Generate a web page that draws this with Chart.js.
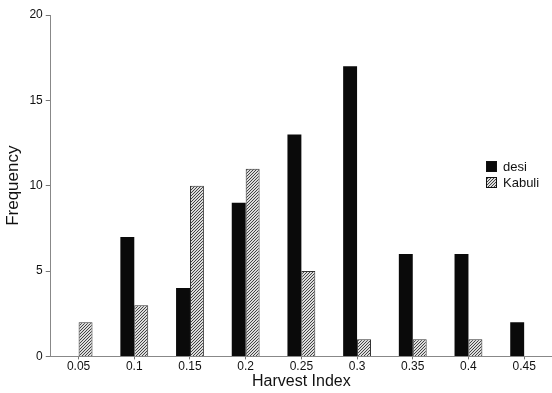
<!DOCTYPE html>
<html>
<head>
<meta charset="utf-8">
<script src="https://cdn.jsdelivr.net/npm/chart.js@4.4.0/dist/chart.umd.min.js"></script>
<style>
  html, body { margin: 0; padding: 0; background: #fff; }
  #wrap { width: 552px; height: 393px; }
</style>
</head>
<body>
<div id="wrap"><canvas id="c" width="552" height="393"></canvas></div>
<script>
// Harvest index classes and counts per chickpea type
const harvestIndex = ['0.05', '0.1', '0.15', '0.2', '0.25', '0.3', '0.35', '0.4', '0.45'];
const desiCounts   = [0, 7, 4, 9, 13, 17, 6, 6, 2];
const kabuliCounts = [2, 3, 10, 11, 5, 1, 1, 1, 0];
const yTicks = [0, 5, 10, 15, 20];

// diagonal hatch fill for the Kabuli bars
function hatch() {
  const p = document.createElement('canvas');
  p.width = 3; p.height = 3;
  const g = p.getContext('2d');
  g.fillStyle = '#dcdcdc';
  g.fillRect(0, 0, 3, 3);
  g.fillStyle = '#444';
  g.fillRect(2, 0, 1, 1);
  g.fillRect(1, 1, 1, 1);
  g.fillRect(0, 2, 1, 1);
  return g.createPattern(p, 'repeat');
}

const FONT = 'Liberation Sans, Arial, sans-serif';

// small legend box inside the plot area on the right
const innerLegend = {
  id: 'innerLegend',
  afterDraw(chart) {
    const ctx = chart.ctx;
    const items = chart.data.datasets;
    const x = 486, y0 = 161, rowH = 16;
    ctx.save();
    items.forEach((ds, i) => {
      const y = y0 + i * rowH;
      ctx.fillStyle = ds.backgroundColor;
      ctx.fillRect(x, y, 11, 11);
      ctx.strokeStyle = '#111';
      ctx.lineWidth = 1;
      ctx.strokeRect(x + 0.5, y + 0.5, 10, 10);
      ctx.fillStyle = '#111';
      ctx.font = '13px ' + FONT;
      ctx.textBaseline = 'middle';
      ctx.fillText(ds.label, x + 17, y + 6);
    });
    ctx.restore();
  }
};

new Chart(document.getElementById('c'), {
  type: 'bar',
  data: {
    labels: harvestIndex,
    datasets: [
      { label: 'desi', data: desiCounts, backgroundColor: '#0a0a0a', borderWidth: 0 },
      { label: 'Kabuli', data: kabuliCounts, backgroundColor: hatch(), borderColor: '#333', borderWidth: { top: 1, left: 1, right: 1, bottom: 0 } }
    ]
  },
  plugins: [innerLegend],
  options: {
    responsive: false,
    animation: false,
    layout: { padding: { top: 15, right: -4, left: 3, bottom: 2 } },
    datasets: { bar: { categoryPercentage: 0.5, barPercentage: 1.0 } },
    plugins: { legend: { display: false }, tooltip: { enabled: false } },
    scales: {
      x: {
        grid: { display: true, offset: false, drawOnChartArea: false, drawTicks: true, tickLength: 3, color: '#777' },
        border: { display: true, color: '#888', dash: [3, 3] },
        ticks: { color: '#111', font: { family: FONT, size: 12 }, padding: 0, maxRotation: 0 },
        title: { display: true, text: 'Harvest Index', color: '#111', font: { family: FONT, size: 16 }, padding: { top: -2, bottom: 0 } }
      },
      y: {
        min: 0, max: 20,
        afterBuildTicks(scale) { scale.ticks = yTicks.map(v => ({ value: v })); },
        grid: { display: true, drawOnChartArea: false, drawTicks: true, tickLength: 5, color: '#777' },
        border: { display: true, color: '#888' },
        ticks: { color: '#111', font: { family: FONT, size: 12 }, padding: 3 },
        title: { display: true, text: 'Frequency', color: '#111', font: { family: FONT, size: 17 }, padding: { top: 0, bottom: 3 } }
      }
    }
  }
});
</script>
</body>
</html>
